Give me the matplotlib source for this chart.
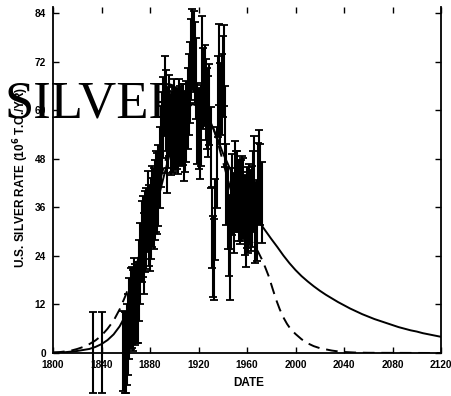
import matplotlib
matplotlib.use("Agg")
import matplotlib.pyplot as plt

plt.rcParams['font.family'] = ['Liberation Sans', 'DejaVu Sans']
plt.rcParams['font.weight'] = 'bold'

# ---- data ----
years = [1833, 1840] + list(range(1858, 1973))
rate = [0.2, 0.2,
        0.5, 0.1, 0.2, 2.0, 4.6, 8.5, 11.0, 11.2, 10.4, 13.5, 12.0, 12.4,  # 1858-1869
        12.4, 17.8, 22.2, 27.6, 28.8, 24.5, 30.0, 30.8, 34.9, 31.6,      # 1870s
        30.3, 33.3, 36.2, 35.7, 37.8, 39.9, 39.4, 41.3, 45.8, 51.0,      # 1880s
        54.5, 58.3, 63.5, 60.0, 49.5, 55.7, 58.8, 53.9, 54.4, 54.8,      # 1890s
        57.6, 55.2, 55.5, 54.3, 57.7, 56.1, 56.5, 56.5, 52.4, 54.7,      # 1900s
        57.1, 60.4, 63.8, 66.8, 72.5, 74.9, 74.4, 71.7, 67.8, 56.7,      # 1910s
        55.4, 53.1, 56.2, 73.3, 65.4, 66.2, 62.7, 60.4, 58.5, 61.3,      # 1920s
        50.7, 30.9, 23.9, 23.0, 32.9, 45.9, 63.4, 71.3, 61.7, 63.9,      # 1930s
        68.3, 71.1, 55.9, 41.6, 35.7, 29.1, 23.0, 35.8, 39.2, 34.6,      # 1940s
        42.3, 39.9, 39.8, 37.7, 36.9, 37.6, 38.7, 38.2, 34.1, 31.2,      # 1950s
        36.0, 34.8, 36.8, 35.2, 36.3, 39.8, 43.7, 32.3, 32.7, 41.9,      # 1960s
        45.0, 41.6, 37.2]                                                 # 1970-1972
rate_err = 10.0

solid_years = [1800, 1810, 1820, 1830, 1835, 1840, 1845, 1850, 1855, 1860,
               1865, 1870, 1875, 1880, 1885, 1890, 1895, 1900, 1905, 1910,
               1915, 1920, 1925, 1930, 1935, 1940, 1945, 1950, 1955, 1960,
               1965, 1970, 1975, 1980, 1985, 1990, 1995, 2000, 2005, 2010,
               2015, 2020, 2025, 2030, 2035, 2040, 2045, 2050, 2055, 2060,
               2065, 2070, 2075, 2080, 2085, 2090, 2095, 2100, 2105, 2110,
               2115, 2120]
solid_rate = [0.1, 0.2, 0.5, 1.0, 1.5, 2.2, 3.2, 4.6, 6.6, 9.4,
              13.3, 18.3, 24.0, 30.0, 36.0, 42.0, 47.8, 53.0, 57.3, 60.3,
              61.5, 61.0, 59.5, 57.0, 53.5, 49.5, 46.2, 43.0, 40.0, 37.2,
              34.7, 32.4, 30.3, 28.2, 26.2, 24.1, 22.2, 20.5, 19.0, 17.7,
              16.5, 15.4, 14.4, 13.5, 12.6, 11.8, 11.0, 10.3, 9.6, 9.0,
              8.4, 7.9, 7.4, 6.9, 6.4, 6.0, 5.6, 5.3, 4.9, 4.6,
              4.3, 4.0]

dash_years = [1800, 1805, 1810, 1815, 1820, 1825, 1830, 1835, 1840, 1845,
              1850, 1855, 1860, 1865, 1870, 1875, 1880, 1885, 1890, 1895,
              1900, 1905, 1910, 1915, 1920, 1925, 1930, 1935, 1940, 1945,
              1950, 1955, 1960, 1965, 1969, 1972, 1975, 1978, 1981, 1984,
              1987, 1990, 1993, 1996, 2000, 2005, 2010, 2015, 2020, 2025,
              2030, 2035, 2040, 2050, 2060, 2120]
dash_rate = [0.1, 0.2, 0.4, 0.6, 1.0, 1.5, 2.2, 3.1, 4.3, 6.0,
             8.0, 10.8, 14.3, 18.5, 23.0, 28.0, 33.5, 39.0, 44.5, 50.0,
             55.0, 59.0, 62.0, 63.5, 63.0, 61.0, 57.5, 53.0, 47.5, 42.0,
             37.0, 33.0, 29.5, 27.0, 25.1, 23.3, 21.2, 18.9, 16.0, 13.2,
             10.8, 8.8, 7.2, 5.9, 4.7, 3.4, 2.4, 1.7, 1.2, 0.9,
             0.6, 0.4, 0.25, 0.1, 0.05, 0.0]

x_ticks = [1800, 1840, 1880, 1920, 1960, 2000, 2040, 2080, 2120]
y_ticks = [0, 12, 24, 36, 48, 60, 72, 84]

# ---- figure ----
fig = plt.figure(figsize=(4.51, 3.96), dpi=100)
ax = fig.add_axes([53 / 451, 1 - 353 / 396, 388 / 451, 346 / 396])

ax.errorbar(years, rate, yerr=rate_err, fmt='none', ecolor='black',
            elinewidth=1.5, capsize=3, capthick=1.3, clip_on=False, zorder=3)
ax.plot(solid_years, solid_rate, color='black', lw=1.4, zorder=4)
ax.plot(dash_years, dash_rate, color='black', lw=1.4, linestyle=(0, (6, 3.5)), zorder=4)

ax.set_xlim(1800, 2120)
ax.set_ylim(0, 85.5)
ax.set_xticks(x_ticks)
ax.set_yticks(y_ticks)
ax.tick_params(direction='in', length=4, width=1.0, top=True, right=True,
               labelsize=7.3, pad=5)
for lab in ax.get_xticklabels() + ax.get_yticklabels():
    lab.set_fontweight('bold')
ax.spines['top'].set_visible(False)
for s in ['left', 'bottom', 'right']:
    ax.spines[s].set_linewidth(1.3)

fig.text(249 / 451, 1 - 383 / 396, "DATE", ha='center', va='center',
         fontsize=8.5, fontweight='bold')
fig.text(21 / 451, 1 - 177 / 396, "U.S. SILVER RATE (10$^{\\mathbf{6}}$ T.O./YR)",
         rotation=90, ha='center', va='center', fontsize=8.5, fontweight='bold')
fig.text(5 / 451, 1 - 117 / 396, "SILVER", ha='left', va='baseline',
         fontsize=38, family=['Liberation Serif', 'DejaVu Serif'], fontweight='normal',
         zorder=5)

fig.savefig("out.png", dpi=100)
